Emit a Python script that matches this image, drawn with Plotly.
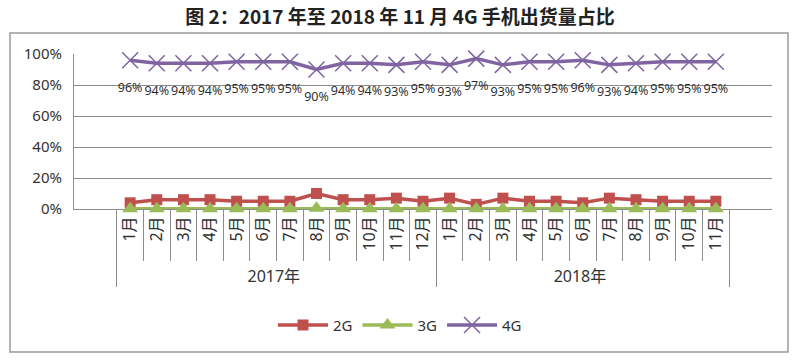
import plotly.graph_objects as go

years = ["2017年"] * 12 + ["2018年"] * 11
months = [f"{i}月" for i in range(1, 13)] + [f"{i}月" for i in range(1, 12)]

g4 = [96, 94, 94, 94, 95, 95, 95, 90, 94, 94, 93, 95,
      93, 97, 93, 95, 95, 96, 93, 94, 95, 95, 95]
g2 = [4, 6, 6, 6, 5, 5, 5, 10, 6, 6, 7, 5,
      7, 3, 7, 5, 5, 4, 7, 6, 5, 5, 5]
g3 = [0.2, 0.2, 0.2, 0.2, 0.2, 0.2, 0.2, 0.5, 0.2, 0.2, 0.2, 0.2,
      0.2, 0.2, 0.2, 0.2, 0.2, 0.2, 0.2, 0.2, 0.2, 0.2, 0.2]

x = [years, months]
fig = go.Figure()
fig.add_trace(go.Scatter(x=x, y=[v / 100 for v in g2], name="2G", mode="lines+markers",
                         cliponaxis=False,
                         line=dict(color="#C0504D", width=3.5),
                         marker=dict(symbol="square", size=11, color="#C0504D")))
fig.add_trace(go.Scatter(x=x, y=[v / 100 for v in g3], name="3G", mode="lines+markers",
                         cliponaxis=False,
                         line=dict(color="#9BBB59", width=3.5),
                         marker=dict(symbol="triangle-up", size=14, color="#9BBB59")))
fig.add_trace(go.Scatter(x=x, y=[v / 100 for v in g4], name="4G", mode="lines+markers",
                         cliponaxis=False,
                         line=dict(color="#8064A2", width=3.5),
                         marker=dict(symbol="x-thin", size=16, line=dict(width=1.5, color="#8064A2"),
                                     color="#8064A2")))
# data labels for 4G (invisible large marker pushes labels further below the points)
fig.add_trace(go.Scatter(x=x, y=[v / 100 for v in g4], mode="markers+text", showlegend=False,
                         hoverinfo="skip", cliponaxis=False,
                         text=[f"{v}%" for v in g4], textposition="bottom center",
                         textfont=dict(size=12.5, color="#262626", family="Open Sans"),
                         marker=dict(size=34, opacity=0)))

fig.update_layout(
    width=800, height=361,
    paper_bgcolor="white", plot_bgcolor="white",
    margin=dict(l=74, r=28, t=54, b=152, autoexpand=False),
    font=dict(family="Noto Sans, Noto Sans CJK SC", color="#333333"),
    title=dict(text="<b>图 2：2017 年至 2018 年 11 月 4G 手机出货量占比</b>",
               x=0.5, xanchor="center", xref="container", y=0.953, yanchor="middle", yref="container",
               font=dict(size=19, family="Noto Sans CJK SC", color="#222222")),
    legend=dict(orientation="h", x=(400 - 74) / 698, xanchor="center", y=-0.75, yanchor="middle",
                font=dict(size=15, family="Noto Sans"), itemwidth=50),
    showlegend=True,
)
fig.update_yaxes(range=[0, 1], tickvals=[0, 0.2, 0.4, 0.6, 0.8, 1.0],
                 ticktext=["0%", "20%", "40%", "60%", "80%", "100%"],
                 showgrid=True, gridcolor="#8c8c8c", gridwidth=1, automargin=False,
                 showline=True, linecolor="#8c8c8c", zeroline=False,
                 tickfont=dict(size=15), ticks="", ticklabelstandoff=8)
fig.update_xaxes(type="multicategory", tickangle=-90, tickfont=dict(size=16), automargin=False,
                 showline=True, linecolor="#8c8c8c", showgrid=False, layer="below traces",
                 ticks="outside", tickson="boundaries", ticklen=51, tickcolor="#8c8c8c",
                 showdividers=True, dividercolor="#8c8c8c", dividerwidth=1)

fig.add_shape(type="rect", xref="paper", yref="paper",
              x0=(10 - 74) / 698, x1=(788 - 74) / 698,
              y0=(209 - 352) / 155, y1=(209 - 33) / 155,
              line=dict(color="#9a9a9a", width=1.5), layer="below")

fig.write_html("out.html", config={"displayModeBar": False},
               post_script="document.body.style.margin='0';")
